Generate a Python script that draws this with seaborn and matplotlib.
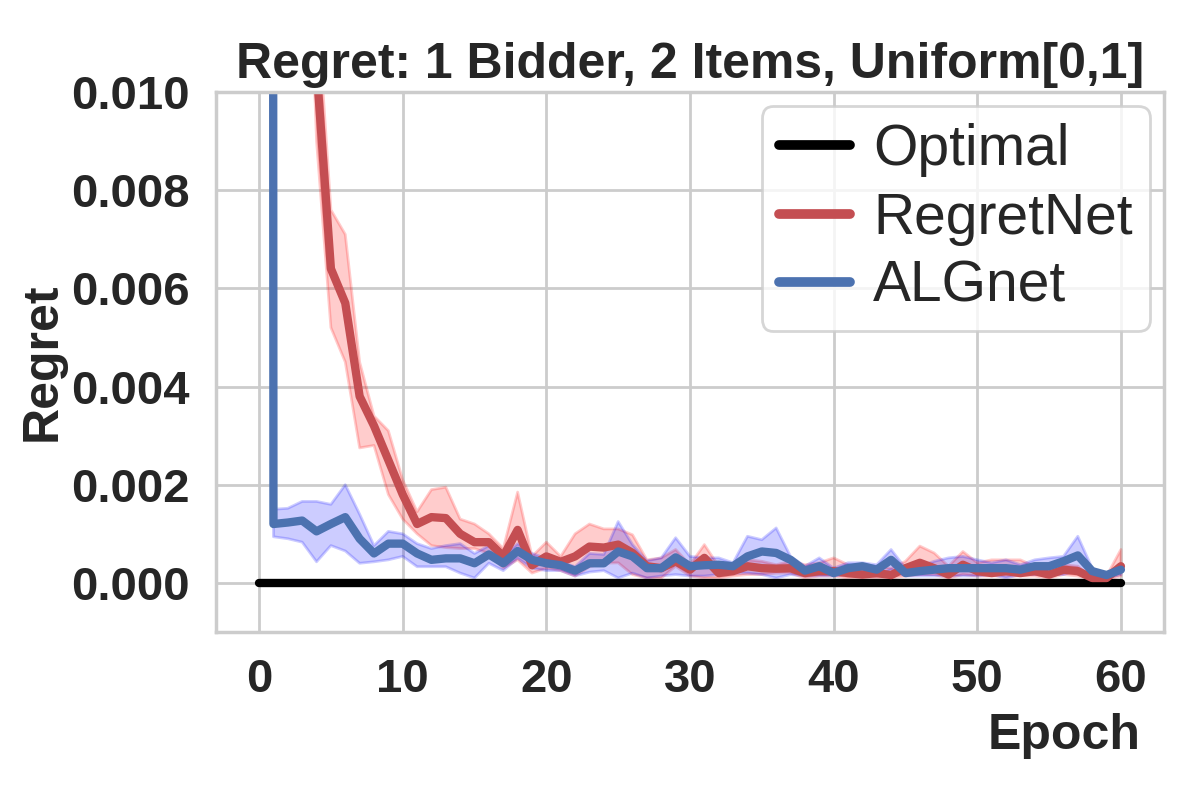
import numpy as np
import pandas as pd
import seaborn as sns
import matplotlib
matplotlib.use("Agg")
import matplotlib.pyplot as plt

# Epochs and mean regret for each method
epochs = list(range(61))

regretnet_mean = [0.15, 0.08, 0.04, 0.02, 0.0105, 0.0064, 0.0057, 0.0038, 0.0032, 0.0025,
                  0.0018, 0.0012, 0.00134, 0.00132, 0.001, 0.00083, 0.00083, 0.00054, 0.00108, 0.00036,
                  0.00054, 0.00043, 0.00054, 0.00074, 0.00072, 0.00078, 0.00061, 0.00034, 0.0003, 0.00044,
                  0.00027, 0.00051, 0.0002, 0.00024, 0.00034, 0.0003, 0.00029, 0.0003, 0.0002, 0.00024,
                  0.00024, 0.0002, 0.00017, 0.0002, 0.00016, 0.0003, 0.00041, 0.0003, 0.00017, 0.00037,
                  0.00024, 0.0002, 0.00024, 0.0002, 0.00024, 0.00017, 0.00027, 0.00024, 0.0001, 0.0001,
                  0.00034]
regretnet_low = [0.12, 0.065, 0.033, 0.017, 0.009, 0.0052, 0.0045, 0.00275, 0.0028, 0.0018,
                 0.0013, 0.001, 0.00076, 0.00072, 0.0007, 0.0007, 0.0006, 0.0003, 0.00047, 0.0002,
                 0.0003, 0.00025, 0.00014, 0.00033, 0.0004, 0.00041, 0.00017, 0.0001, 0.0001, 0.00034,
                 0.00014, 0.0001, 0.0001, 0.00014, 0.00017, 0.00017, 0.0002, 0.0002, 0.0001, 0.00014,
                 0.00014, 0.0001, 0.0001, 0.0001, 0.0001, 0.00014, 0.00017, 0.00017, 0.0001, 0.00017,
                 0.00014, 0.00014, 0.00014, 0.00014, 0.00014, 0.0001, 0.00017, 0.00014, 0.00007, 0.00007,
                 0.00014]
regretnet_high = [0.18, 0.095, 0.048, 0.024, 0.012, 0.0076, 0.0071, 0.0045, 0.0034, 0.0031,
                  0.0021, 0.00145, 0.0019, 0.00195, 0.0013, 0.0012, 0.001, 0.0007, 0.00185, 0.00054,
                  0.00083, 0.00054, 0.001, 0.0012, 0.0011, 0.0011, 0.00098, 0.00047, 0.00051, 0.00068,
                  0.00037, 0.00078, 0.00034, 0.00034, 0.00047, 0.00044, 0.00037, 0.00044, 0.00037, 0.00041,
                  0.00051, 0.00037, 0.00027, 0.00034, 0.0003, 0.00044, 0.00075, 0.00061, 0.00034, 0.00064,
                  0.00041, 0.00047, 0.00047, 0.00047, 0.00034, 0.0003, 0.00037, 0.00034, 0.0001, 0.00014,
                  0.00068]

algnet_mean = [0.5, 0.0012, 0.00123, 0.00127, 0.00105, 0.0012, 0.00134, 0.0009, 0.0006, 0.0008,
               0.0008, 0.0006, 0.00047, 0.0005, 0.0005, 0.0004, 0.00058, 0.0004, 0.00065, 0.00047,
               0.0004, 0.00036, 0.00025, 0.0004, 0.0004, 0.00064, 0.00054, 0.0003, 0.0003, 0.00052,
               0.00034, 0.00036, 0.00037, 0.00034, 0.00054, 0.00064, 0.00061, 0.00047, 0.00025, 0.00034,
               0.0002, 0.0003, 0.00034, 0.00027, 0.00047, 0.0002, 0.00024, 0.00027, 0.0003, 0.0003,
               0.0003, 0.0003, 0.0003, 0.00027, 0.00034, 0.00034, 0.00044, 0.00056, 0.00024, 0.00016,
               0.00027]
algnet_low = [0.4, 0.00094, 0.0009, 0.00083, 0.00043, 0.00076, 0.00065, 0.0004, 0.00043, 0.00047,
              0.00054, 0.00033, 0.00033, 0.00033, 0.0002, 0.0001, 0.0004, 0.00025, 0.0005, 0.0003,
              0.00025, 0.00025, 0.00014, 0.00022, 0.00025, 0.0001, 0.0002, 0.0001, 0.00014, 0.00017,
              0.00014, 0.00014, 0.00017, 0.0002, 0.0002, 0.00017, 0.0001, 0.00017, 0.00014, 0.00014,
              0.00014, 0.00017, 0.00017, 0.00014, 0.00027, 0.00014, 0.00014, 0.00014, 0.00014, 0.00014,
              0.00014, 0.00017, 0.0001, 0.00017, 0.00017, 0.00017, 0.00017, 0.00027, 0.00014, 0.0001,
              0.00017]
algnet_high = [0.6, 0.0015, 0.00152, 0.00166, 0.00166, 0.0016, 0.002, 0.0014, 0.00076, 0.00105,
               0.001, 0.0008, 0.0007, 0.00076, 0.0008, 0.0006, 0.00076, 0.00054, 0.0008, 0.0006,
               0.0005, 0.00043, 0.00033, 0.0006, 0.00058, 0.00125, 0.00078, 0.00045, 0.00051, 0.00092,
               0.00054, 0.00051, 0.00051, 0.00041, 0.00095, 0.00088, 0.00112, 0.00054, 0.00034, 0.00051,
               0.0003, 0.00041, 0.00041, 0.00037, 0.00068, 0.0003, 0.00034, 0.00044, 0.00051, 0.00054,
               0.00047, 0.00041, 0.00047, 0.00037, 0.00047, 0.00051, 0.00054, 0.00095, 0.0003, 0.00017,
               0.0003]

optimal = [0.0] * len(epochs)

df = pd.DataFrame({
    "Epoch": epochs * 3,
    "Regret": optimal + regretnet_mean + algnet_mean,
    "Method": ["Optimal"] * 61 + ["RegretNet"] * 61 + ["ALGnet"] * 61,
})

sns.set_theme(style="whitegrid")
plt.rcParams["font.family"] = ["Liberation Sans", "DejaVu Sans"]

fig, ax = plt.subplots(figsize=(6, 4), dpi=200)

# shaded bands first, lines on top
ax.fill_between(epochs, regretnet_low, regretnet_high, color="red", alpha=0.2)
ax.fill_between(epochs, algnet_low, algnet_high, color="blue", alpha=0.2)

sns.lineplot(data=df, x="Epoch", y="Regret", hue="Method",
             palette={"Optimal": "black", "RegretNet": "#c44e52", "ALGnet": "#4c72b0"},
             linewidth=3, ax=ax)

ax.set_xlim(-3, 63)
ax.set_ylim(-0.001, 0.010)
ax.set_xticks([0, 10, 20, 30, 40, 50, 60])
ax.set_yticks([0.0, 0.002, 0.004, 0.006, 0.008, 0.010])
ax.yaxis.set_major_formatter(matplotlib.ticker.FormatStrFormatter("%.3f"))

for lab in ax.get_xticklabels() + ax.get_yticklabels():
    lab.set_fontsize(17)
    lab.set_fontweight("bold")

ax.set_title("Regret: 1 Bidder, 2 Items, Uniform[0,1]", fontsize=18, fontweight="bold", pad=5)
ax.set_xlabel("Epoch", fontsize=18, fontweight="bold", ha="right")
ax.xaxis.set_label_coords(0.975, -0.15)
ax.set_ylabel("Regret", fontsize=18, fontweight="bold", labelpad=2)

leg = ax.legend(loc="upper right", fontsize=20.5, handlelength=1.25, handletextpad=0.4,
                labelspacing=0.25, borderpad=0.3, borderaxespad=0.25)
for line in leg.get_lines():
    line.set_linewidth(3.5)

fig.subplots_adjust(left=0.18, right=0.97, top=0.885, bottom=0.21)
fig.savefig("out.png")
